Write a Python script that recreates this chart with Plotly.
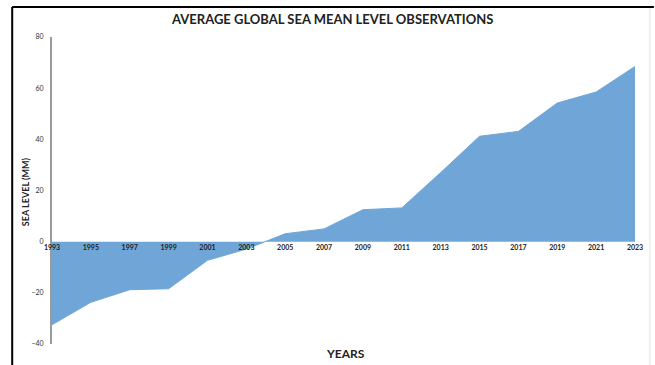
import plotly.graph_objects as go

# Average global mean sea level, mm, relative to the reference baseline
years = [1993, 1995, 1997, 1999, 2001, 2003, 2005, 2007, 2009, 2011,
         2013, 2015, 2017, 2019, 2021, 2023]
sea_level_mm = [-32.5, -23.7, -18.8, -18.4, -7.3, -2.9, 3.1, 5.0, 12.5, 13.2,
                27.0, 41.2, 43.1, 54.2, 58.5, 68.5]
y_ticks = [-40, -20, 0, 20, 40, 60, 80]

W, H = 655, 365
L, R, T, B = 52, 17, 37, 21
plot_w = W - L - R
plot_h = H - T - B

def px_x(px):
    return (px - L) / plot_w

def px_y(py):
    return (H - B - py) / plot_h

fill_color = "#70a6d7"

fig = go.Figure()
fig.add_trace(go.Scatter(
    x=years, y=sea_level_mm,
    mode="lines",
    fill="tozeroy",
    fillcolor=fill_color,
    line=dict(color=fill_color, width=1),
    hoverinfo="x+y",
    showlegend=False,
))

fig.update_layout(
    width=W, height=H,
    margin=dict(l=L, r=R, t=T, b=B),
    paper_bgcolor="white",
    plot_bgcolor="white",
    font=dict(family="Lato", color="#222"),
    showlegend=False,
    xaxis=dict(
        range=[1993, 2023],
        tickvals=years,
        ticktext=[str(y) for y in years],
        tickfont=dict(family="Lato", size=7, color="#222", weight="bold"),
        showgrid=False, zeroline=False, showline=False, ticks="",
        anchor="free", position=40 / 120,
        fixedrange=True,
    ),
    yaxis=dict(
        range=[-40, 80],
        tickvals=y_ticks,
        tickfont=dict(family="Lato", size=7, color="#333"),
        showgrid=False, zeroline=False,
        showline=True, linecolor="#9a9a9a", linewidth=2,
        ticks="", ticklabelstandoff=5,
        fixedrange=True,
    ),
)

# Chart title
fig.add_annotation(
    text="<b>AVERAGE GLOBAL SEA MEAN LEVEL OBSERVATIONS</b>",
    xref="paper", yref="paper",
    x=px_x(333), y=px_y(19), showarrow=False,
    font=dict(family="Lato", size=13, color="#222"),
    xanchor="center", yanchor="middle",
)

# Axis titles
fig.add_annotation(
    text="<b>YEARS</b>", xref="paper", yref="paper",
    x=px_x(347), y=px_y(353), showarrow=False,
    font=dict(family="Lato", size=12, color="#222"),
    xanchor="center", yanchor="middle",
)
fig.add_annotation(
    text="<b>SEA LEVEL (MM)</b>", xref="paper", yref="paper",
    x=px_x(25), y=px_y(192), showarrow=False, textangle=-90,
    font=dict(family="Lato", size=9, color="#222"),
    xanchor="center", yanchor="middle",
)

# Frame around the chart
fig.add_shape(type="line", xref="paper", yref="paper",
              x0=px_x(12), x1=px_x(W + 2), y0=px_y(7), y1=px_y(7),
              line=dict(color="black", width=2))
fig.add_shape(type="line", xref="paper", yref="paper",
              x0=px_x(12), x1=px_x(12), y0=px_y(7), y1=px_y(H + 2),
              line=dict(color="black", width=2))
fig.add_shape(type="line", xref="paper", yref="paper",
              x0=px_x(653), x1=px_x(653), y0=px_y(8), y1=px_y(H + 2),
              line=dict(color="#e4e4e4", width=1))

fig.write_html("out.html")
